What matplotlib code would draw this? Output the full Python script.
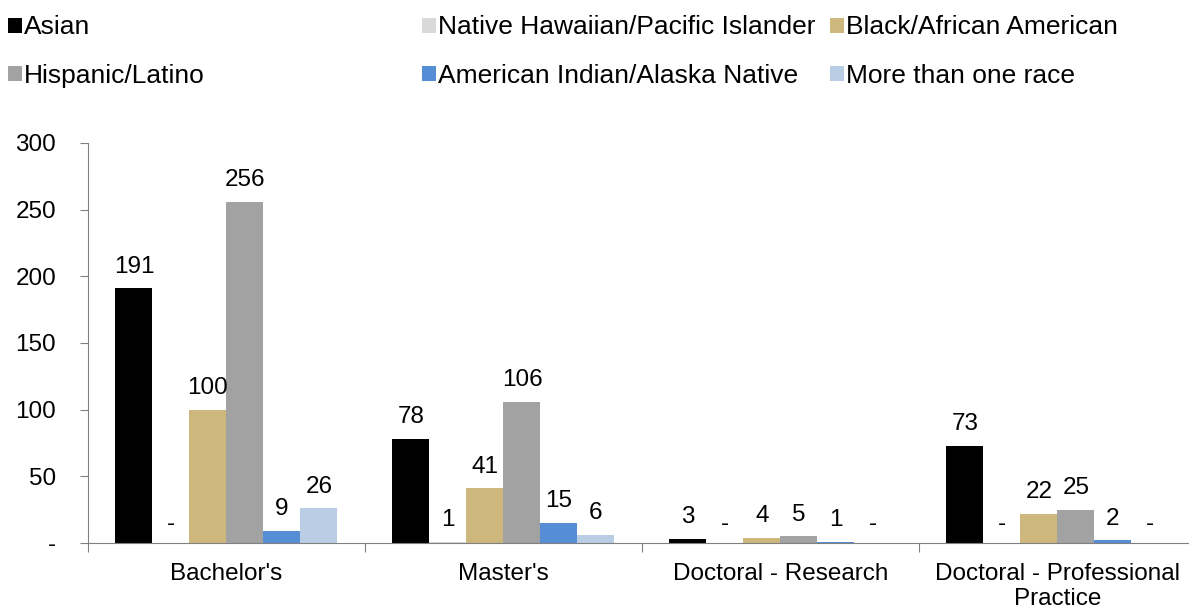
import matplotlib.pyplot as plt
import numpy as np
from matplotlib.patches import Patch

plt.rcParams['font.family'] = ['Liberation Sans', 'DejaVu Sans']

degrees = ["Bachelor's", "Master's", "Doctoral - Research", "Doctoral - Professional\nPractice"]
races = ["Asian", "Native Hawaiian/Pacific Islander", "Black/African American",
         "Hispanic/Latino", "American Indian/Alaska Native", "More than one race"]
asian = [191, 78, 3, 73]
hawaiian = [0, 1, 0, 0]
black = [100, 41, 4, 22]
hispanic = [256, 106, 5, 25]
american_indian = [9, 15, 1, 2]
multi = [26, 6, 0, 0]
series = [asian, hawaiian, black, hispanic, american_indian, multi]
colors = ['#000000', '#d9d9d9', '#cdb77c', '#a2a2a2', '#558ed5', '#b9cde5']

fs = 17.5
fig = plt.figure(figsize=(11.89, 6.12), dpi=100)
ax = fig.add_axes([88/1189, 1-543/612, 1108/1189, 400/612])

x = np.arange(len(degrees))
w = 37/277
for i, vals in enumerate(series):
    pos = x + (i - 2.5) * w
    ax.bar(pos, vals, width=w, color=colors[i], edgecolor='none')
    for p, v in zip(pos, vals):
        lab = str(v) if v > 0 else '-'
        y = v + 8 if v > 0 else 6
        ax.text(p, y, lab, ha='center', va='bottom', fontsize=fs)

ax.set_xlim(-0.5, 3.5)
ax.set_ylim(0, 300)
ax.set_yticks([0, 50, 100, 150, 200, 250, 300])
ax.set_yticklabels(['-', '50', '100', '150', '200', '250', '300'], fontsize=fs)
ax.set_xticks(np.arange(-0.5, 4, 1))
ax.set_xticklabels([])
ax.set_xticks(x, minor=True)
ax.set_xticklabels(degrees, minor=True, fontsize=fs, linespacing=1.15)
ax.tick_params(axis='x', which='minor', length=0, pad=14.5)
ax.tick_params(axis='x', which='major', length=6.5, color='#808080', direction='out')
ax.tick_params(axis='y', length=6, color='#808080', direction='out', pad=17)
for s in ['top', 'right']:
    ax.spines[s].set_visible(False)
for s in ['left', 'bottom']:
    ax.spines[s].set_color('#808080')

handles = [Patch(facecolor=c, edgecolor='none') for c in colors]
xs = [-10/1189, 404/1189, 812/1189]
for col in range(3):
    h = [handles[col], handles[col + 3]]
    l = [races[col], races[col + 3]]
    fig.legend(h, l, loc='upper left', bbox_to_anchor=(xs[col], 1 + 3/612), frameon=False,
               fontsize=19, handlelength=0.5, handleheight=0.5, handletextpad=0.1,
               labelspacing=0.92, borderaxespad=0.3)

fig.savefig('out.png', dpi=100)
